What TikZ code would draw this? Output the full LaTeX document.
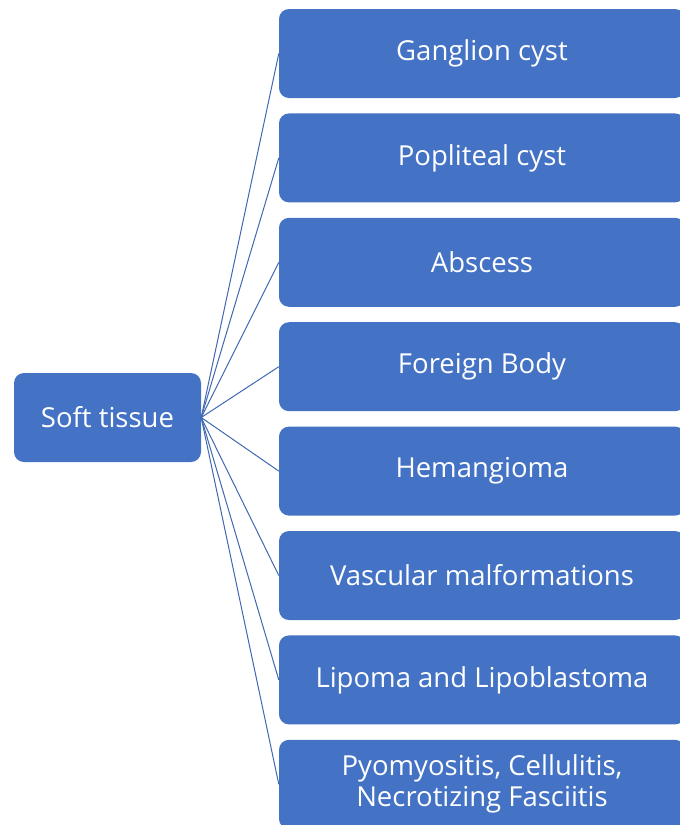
\documentclass[tikz,border=0pt]{standalone}
\usepackage{fontspec}
\setmainfont{Open Sans}
\definecolor{boxblue}{HTML}{4472C4}
\definecolor{lineblue}{HTML}{4068B0}
\begin{document}
\begin{tikzpicture}[x=1pt,y=-1pt,
  box/.style={fill=boxblue,draw=none,rounded corners=10pt,text=white,
    font=\fontsize{27.5}{31}\selectfont,align=center,inner sep=0pt,
    minimum height=89pt},
  leftbox/.style={box,minimum width=187pt},
  rightbox/.style={box,minimum width=406pt},
  link/.style={draw=lineblue,line width=1pt}]
\useasboundingbox (0,0) rectangle (680,825);
\clip (0,0) rectangle (680,825);
\node[leftbox] (soft) at (107.5,417.5) {Soft tissue};
\node[rightbox] (b1) at (482,53.5) {Ganglion cyst};
\node[rightbox] (b2) at (482,157.9) {Popliteal cyst};
\node[rightbox] (b3) at (482,262.3) {Abscess};
\node[rightbox] (b4) at (482,366.7) {Foreign Body};
\node[rightbox] (b5) at (482,471.1) {Hemangioma};
\node[rightbox] (b6) at (482,575.5) {Vascular malformations};
\node[rightbox] (b7) at (482,679.9) {Lipoma and Lipoblastoma};
\node[rightbox] (b8) at (482,784.3) {Pyomyositis, Cellulitis,\\Necrotizing Fasciitis};
\foreach \b in {b1,b2,b3,b4,b5,b6,b7,b8}
  \draw[link] (soft.east) -- (\b.west);
\end{tikzpicture}
\end{document}
